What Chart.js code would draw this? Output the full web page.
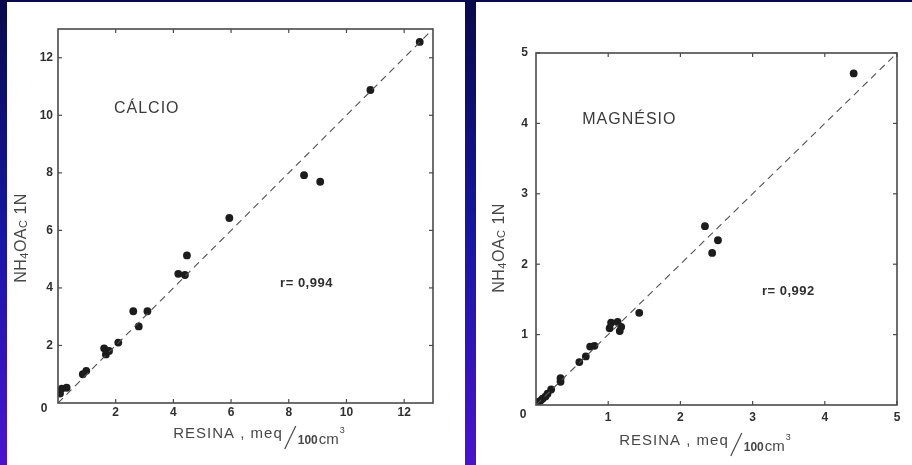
<!DOCTYPE html>
<html>
<head>
<meta charset="utf-8">
<script src="https://cdn.jsdelivr.net/npm/chart.js@4.4.0/dist/chart.umd.min.js"></script>
<style>
  html, body { margin: 0; padding: 0; }
  body {
    width: 912px; height: 465px; overflow: hidden; position: relative;
    background: linear-gradient(to bottom, #09094c 0%, #1616a4 50%, #4a12d0 100%);
  }
  .panel { position: absolute; background: #fff; }
  #p1 { left: 7px; top: 2px; width: 458px; height: 463px; }
  #p2 { left: 476px; top: 2px; width: 436px; height: 463px; }
  canvas { display: block; }
</style>
</head>
<body>
<div class="panel" id="p1"><canvas id="calcio" width="458" height="463"></canvas></div>
<div class="panel" id="p2"><canvas id="magnesio" width="436" height="463"></canvas></div>
<script>
// Cálcio trocável: resina (x) contra NH4OAc 1N (y), meq/100cm3
const calcioResina  = [12.54, 10.83, 8.53, 9.09, 5.94, 4.47, 4.17, 4.40, 2.61, 3.10, 2.80, 2.09, 1.60, 1.77, 1.66, 0.98, 0.86, 0.30, 0.13, 0.07];
const calcioNH4OAc  = [12.55, 10.88, 7.92, 7.69, 6.43, 5.13, 4.49, 4.45, 3.19, 3.19, 2.66, 2.10, 1.90, 1.81, 1.69, 1.12, 1.00, 0.53, 0.50, 0.33];
const calcioTicks   = [0, 2, 4, 6, 8, 10, 12];
const calcioLimits  = [0, 13];
const calcioTitle   = 'CÁLCIO';
const calcioR       = 'r= 0,994';

// Magnésio trocável
const magnesioResina = [4.40, 2.34, 2.52, 2.44, 1.43, 1.04, 1.13, 1.02, 1.18, 1.16, 0.81, 0.75, 0.69, 0.60, 0.34, 0.34, 0.21, 0.16, 0.13, 0.09, 0.06, 0.02];
const magnesioNH4OAc = [4.71, 2.54, 2.34, 2.16, 1.31, 1.17, 1.18, 1.09, 1.11, 1.05, 0.84, 0.83, 0.69, 0.61, 0.38, 0.33, 0.22, 0.16, 0.12, 0.09, 0.06, 0.04];
const magnesioTicks  = [0, 1, 2, 3, 4, 5];
const magnesioLimits = [0, 5];
const magnesioTitle  = 'MAGNÉSIO';
const magnesioR      = 'r= 0,992';

const INK = '#2f2f2f';
const GREY = '#474747';

function line(ctx, x1, y1, x2, y2) {
  ctx.beginPath(); ctx.moveTo(x1, y1); ctx.lineTo(x2, y2); ctx.stroke();
}

// "RESINA , meq/100cm³" with the stacked-fraction look
function drawXTitle(ctx, cx, cy) {
  ctx.save();
  ctx.fillStyle = GREY; ctx.strokeStyle = GREY; ctx.textBaseline = 'alphabetic'; ctx.textAlign = 'left';
  const b = cy + 5;
  const parts = [
    { t: 'RESINA , meq', f: '15px "Liberation Sans"', dy: 0, ls: '1px', gap: 0 },
    { t: '100', f: 'bold 12px "Liberation Sans"', dy: 6, ls: '0px', gap: 15 },
    { t: 'cm', f: '15px "Liberation Sans"', dy: 6, ls: '0px', gap: 1 },
    { t: '3', f: '9px "Liberation Sans"', dy: -5, ls: '0px', gap: 1 }
  ];
  let total = 0;
  parts.forEach(p => { ctx.font = p.f; ctx.letterSpacing = p.ls; p.w = ctx.measureText(p.t).width; total += p.w + p.gap; });
  let x = cx - total / 2;
  parts.forEach((p, i) => {
    x += p.gap;
    if (i === 1) {
      ctx.lineWidth = 1.2;
      line(ctx, x - 13, b + 11, x - 2, b - 12);
    }
    ctx.font = p.f; ctx.letterSpacing = p.ls;
    ctx.fillText(p.t, x, b + p.dy);
    x += p.w;
  });
  ctx.restore();
}

// "NH₄OAc 1N", rotated
function drawYTitle(ctx, cx, cy) {
  ctx.save();
  ctx.translate(cx, cy);
  ctx.rotate(-Math.PI / 2);
  ctx.fillStyle = GREY; ctx.textBaseline = 'middle'; ctx.textAlign = 'left';
  ctx.letterSpacing = '0.5px';
  const parts = [
    { t: 'NH', f: '16px "Liberation Sans"', dy: 0 },
    { t: '4', f: '11px "Liberation Sans"', dy: 3 },
    { t: 'OA', f: '16px "Liberation Sans"', dy: 0 },
    { t: 'C', f: '11px "Liberation Sans"', dy: 2 },
    { t: ' 1N', f: '16px "Liberation Sans"', dy: 0 }
  ];
  let total = 0;
  parts.forEach(p => { ctx.font = p.f; p.w = ctx.measureText(p.t).width; total += p.w; });
  let x = -total / 2;
  parts.forEach(p => { ctx.font = p.f; ctx.fillText(p.t, x, p.dy); x += p.w; });
  ctx.restore();
}

// frame, inward tick marks, corner zero and the text inside the plot
const framePlugin = {
  id: 'frame',
  afterDraw(chart) {
    const o = chart.options.plugins.frame;
    const { ctx, chartArea: a, scales: { x, y } } = chart;
    ctx.save();
    ctx.strokeStyle = '#4a4a4a';
    ctx.lineWidth = 1.6;
    ctx.strokeRect(a.left, a.top, a.width, a.height);
    ctx.lineWidth = 1.2;
    x.ticks.forEach(t => {
      if (t.value === 0) return;
      const px = x.getPixelForValue(t.value);
      line(ctx, px, a.bottom, px, a.bottom - 4);
      line(ctx, px, a.top, px, a.top + 4);
    });
    y.ticks.forEach(t => {
      if (t.value === 0) return;
      const py = y.getPixelForValue(t.value);
      line(ctx, a.left, py, a.left + 4, py);
      line(ctx, a.right, py, a.right - 4, py);
    });

    ctx.fillStyle = INK;
    ctx.font = 'bold 12px "Liberation Sans"';
    ctx.textAlign = 'center'; ctx.textBaseline = 'middle';
    ctx.fillText('0', a.left + o.zero[0], a.bottom + o.zero[1]);

    ctx.fillStyle = '#3a3a3a';
    ctx.font = '16px "Liberation Sans"';
    ctx.letterSpacing = '1px';
    ctx.textAlign = 'left';
    ctx.fillText(o.name, x.getPixelForValue(o.nameAt[0]), y.getPixelForValue(o.nameAt[1]));

    ctx.fillStyle = INK;
    ctx.font = 'bold 13px "Liberation Sans"';
    ctx.letterSpacing = '0.5px';
    ctx.fillText(o.r, x.getPixelForValue(o.rAt[0]), y.getPixelForValue(o.rAt[1]));
    ctx.restore();

    drawXTitle(ctx, o.xTitle[0], o.xTitle[1]);
    drawYTitle(ctx, o.yTitle[0], o.yTitle[1]);
  }
};

function makeChart(id, xs, ys, ticks, limits, look) {
  const points = xs.map((v, i) => ({ x: v, y: ys[i] }));
  const diagonal = limits.map(v => ({ x: v, y: v }));
  const axis = (pad, fit) => ({
    type: 'linear',
    min: limits[0], max: limits[1],
    afterBuildTicks: s => { s.ticks = ticks.map(v => ({ value: v })); },
    afterFit: fit,
    grid: { display: false, drawTicks: false },
    border: { display: false },
    ticks: {
      padding: pad,
      color: INK,
      font: { family: 'Liberation Sans', weight: 'bold', size: 12 },
      callback: v => (v === 0 ? '' : v)
    }
  });
  return new Chart(document.getElementById(id), {
    type: 'scatter',
    data: {
      datasets: [
        {
          data: diagonal,
          showLine: true,
          pointRadius: 0,
          borderColor: '#505050',
          borderWidth: 1.1,
          borderDash: [7, 5]
        },
        {
          data: points,
          pointRadius: 3.9,
          pointHoverRadius: 3.9,
          pointBackgroundColor: '#1c1c1c',
          pointBorderWidth: 0
        }
      ]
    },
    options: {
      responsive: false,
      animation: false,
      layout: { padding: look.padding },
      scales: {
        x: axis(look.xPad, s => { s.height = look.xHeight; }),
        y: axis(look.yPad, s => { s.width = look.yWidth; })
      },
      plugins: {
        legend: { display: false },
        tooltip: { enabled: false },
        frame: look.frame
      }
    },
    plugins: [framePlugin]
  });
}

makeChart('calcio', calcioResina, calcioNH4OAc, calcioTicks, calcioLimits, {
  padding: { left: 0, top: 27, right: 32, bottom: 0 },
  xHeight: 62, yWidth: 51, xPad: 2, yPad: 5,
  frame: {
    name: calcioTitle, nameAt: [1.94, 10.25],
    r: calcioR, rAt: [7.7, 4.15],
    zero: [-14, 6],
    xTitle: [252, 431],
    yTitle: [15, 236]
  }
});

makeChart('magnesio', magnesioResina, magnesioNH4OAc, magnesioTicks, magnesioLimits, {
  padding: { left: 0, top: 51, right: 15, bottom: 0 },
  xHeight: 60, yWidth: 60, xPad: 5, yPad: 8,
  frame: {
    name: magnesioTitle, nameAt: [0.64, 4.05],
    r: magnesioR, rAt: [3.13, 1.62],
    zero: [-13, 10],
    xTitle: [229, 438],
    yTitle: [24, 246]
  }
});
</script>
</body>
</html>
